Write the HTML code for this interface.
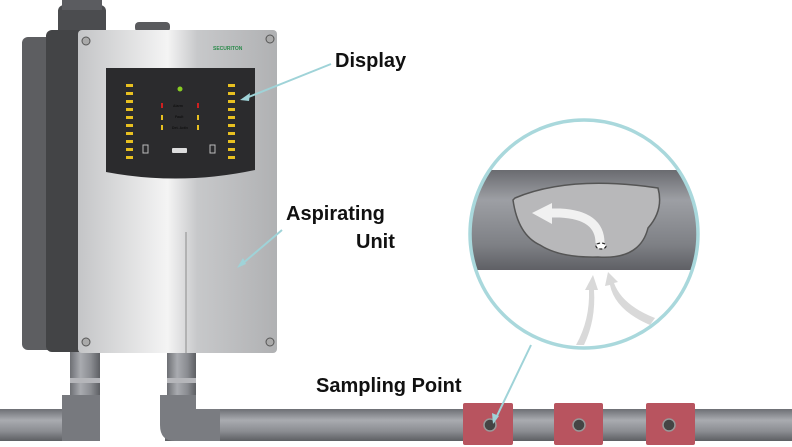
<!DOCTYPE html>
<html><head><meta charset="utf-8"><style>
html,body{margin:0;padding:0;background:#fff;}
svg{display:block;}
text{font-family:"Liberation Sans",sans-serif;font-weight:bold;fill:#111;}
</style></head><body>
<svg width="792" height="447" viewBox="0 0 792 447" xmlns="http://www.w3.org/2000/svg">
<defs>
<linearGradient id="pv" x1="0" x2="1" y1="0" y2="0">
<stop offset="0" stop-color="#6d6f74"/><stop offset=".35" stop-color="#a9abb0"/><stop offset=".7" stop-color="#8a8c91"/><stop offset="1" stop-color="#5d5f63"/></linearGradient>
<linearGradient id="ph" x1="0" x2="0" y1="0" y2="1">
<stop offset="0" stop-color="#6d6f74"/><stop offset=".35" stop-color="#a9abb0"/><stop offset=".7" stop-color="#8a8c91"/><stop offset="1" stop-color="#5d5f63"/></linearGradient>
<linearGradient id="front" x1="0" x2="1" y1="0" y2="0">
<stop offset="0" stop-color="#c4c5c7"/><stop offset=".45" stop-color="#f4f4f4"/><stop offset=".6" stop-color="#c7c8ca"/><stop offset="1" stop-color="#b0b1b3"/></linearGradient>
<linearGradient id="bigpipe" x1="0" x2="0" y1="0" y2="1">
<stop offset="0" stop-color="#6a6b70"/><stop offset=".3" stop-color="#9d9fa4"/><stop offset=".75" stop-color="#7e8085"/><stop offset="1" stop-color="#5f6065"/></linearGradient>
<clipPath id="cc"><circle cx="584" cy="234" r="114"/></clipPath>
</defs>
<!-- pipes -->
<rect x="0" y="409" width="100" height="32" fill="url(#ph)"/>
<rect x="70" y="352" width="30" height="75" fill="url(#pv)"/>
<rect x="70" y="378" width="30" height="5" fill="#b5b6ba"/>
<path d="M62 395 H100 V441 H62 Z" fill="#77797e"/>
<rect x="165" y="409" width="627" height="32" fill="url(#ph)"/>
<rect x="167" y="352" width="29" height="75" fill="url(#pv)"/>
<rect x="167" y="378" width="29" height="5" fill="#b5b6ba"/>
<path d="M160 395 H196 V409 H220 V441 H175 Q160 441 160 425 Z" fill="#7a7c81"/>
<!-- collars -->
<g fill="#b8545f">
<rect x="463" y="403" width="50" height="42" rx="2"/>
<rect x="554" y="403" width="49" height="42" rx="2"/>
<rect x="646" y="403" width="49" height="42" rx="2"/>
</g>
<g fill="#444" stroke="#999" stroke-width="1.5">
<circle cx="490" cy="425" r="6"/><circle cx="579" cy="425" r="6"/><circle cx="669" cy="425" r="6"/>
</g>
<!-- device -->
<rect x="58" y="5" width="48" height="32" rx="6" fill="#4b4c4f"/>
<rect x="62" y="0" width="40" height="10" fill="#5b5c60"/>
<rect x="135" y="22" width="35" height="10" rx="4" fill="#5a5b5e"/>
<rect x="22" y="37" width="60" height="313" rx="6" fill="#5d5e61"/>
<rect x="46" y="30" width="40" height="322" rx="6" fill="#434446"/>
<rect x="78" y="30" width="199" height="323" rx="4" fill="url(#front)"/>
<line x1="186" y1="232" x2="186" y2="353" stroke="#999" stroke-width="1.2"/>
<path d="M106 68 H255 V170 Q180 186 106 172 Z" fill="#2b2b2d"/>
<circle cx="86" cy="41" r="4" fill="#aaa" stroke="#555"/><circle cx="270" cy="39" r="4" fill="#aaa" stroke="#555"/>
<circle cx="86" cy="342" r="4" fill="#aaa" stroke="#555"/><circle cx="270" cy="342" r="4" fill="#aaa" stroke="#555"/>
<text x="213" y="50" font-size="5" style="fill:#2a8a4a">SECURITON</text>
<g fill="#e8c020">
<rect x="126" y="84" width="7" height="3"/><rect x="126" y="92" width="7" height="3"/><rect x="126" y="100" width="7" height="3"/><rect x="126" y="108" width="7" height="3"/><rect x="126" y="116" width="7" height="3"/><rect x="126" y="124" width="7" height="3"/><rect x="126" y="132" width="7" height="3"/><rect x="126" y="140" width="7" height="3"/><rect x="126" y="148" width="7" height="3"/><rect x="126" y="156" width="7" height="3"/>
<rect x="228" y="84" width="7" height="3"/><rect x="228" y="92" width="7" height="3"/><rect x="228" y="100" width="7" height="3"/><rect x="228" y="108" width="7" height="3"/><rect x="228" y="116" width="7" height="3"/><rect x="228" y="124" width="7" height="3"/><rect x="228" y="132" width="7" height="3"/><rect x="228" y="140" width="7" height="3"/><rect x="228" y="148" width="7" height="3"/><rect x="228" y="156" width="7" height="3"/>
<rect x="161" y="115" width="2" height="5"/><rect x="197" y="115" width="2" height="5"/><rect x="161" y="125" width="2" height="5"/><rect x="197" y="125" width="2" height="5"/>
</g>
<rect x="161" y="103" width="2" height="5" fill="#d02020"/><rect x="197" y="103" width="2" height="5" fill="#d02020"/>
<circle cx="180" cy="89" r="2.5" fill="#8c2"/>
<rect x="172" y="148" width="15" height="5" rx="1" fill="#ddd"/>
<rect x="143" y="145" width="5" height="8" fill="none" stroke="#bbb"/><rect x="210" y="145" width="5" height="8" fill="none" stroke="#bbb"/>
<g font-size="3.5" style="fill:#bbb;font-weight:normal"><text x="173" y="107">Alarm</text><text x="175" y="118">Fault</text><text x="172" y="129">Det. Activ</text></g>
<!-- circle detail -->
<circle cx="584" cy="234" r="114" fill="#fff"/>
<g clip-path="url(#cc)">
<rect x="460" y="170" width="250" height="100" fill="url(#bigpipe)"/>
<path d="M515 198 Q570 175 658 188 Q664 210 648 228 Q640 260 598 257 Q560 258 540 245 Q518 235 513 200 Z" fill="#b8b8ba" stroke="#555" stroke-width="1.5"/>
<path d="M600 243 Q600 215 560 213 L548 213" fill="none" stroke="#f1f1f1" stroke-width="9"/>
<path d="M552 203 L532 213 L552 224 Z" fill="#f1f1f1"/>
<ellipse cx="601" cy="246" rx="5" ry="3" fill="#fff" stroke="#222" stroke-width="1.2" stroke-dasharray="3,2"/>
<path d="M576 345 Q590 320 589 290 L585 290 L593 275 L598 290 L594 290 Q596 320 584 345 Z" fill="#d9d9d9"/>
<path d="M650 325 Q615 310 610 285 L605 286 L608 272 L618 282 L614 283 Q622 305 655 318 Z" fill="#d9d9d9"/>
</g>
<circle cx="584" cy="234" r="114" fill="none" stroke="#a9d8dc" stroke-width="3.5"/>
<!-- leaders -->
<g stroke="#9fd3d8" stroke-width="2">
<line x1="331" y1="64" x2="246" y2="98"/>
<line x1="282" y1="230" x2="242" y2="264"/>
<line x1="531" y1="345" x2="495" y2="420"/>
</g>
<path d="M240 100 L250 93 L249 101 Z" fill="#9fd3d8"/>
<path d="M237 268 L243 258 L246 264 Z" fill="#9fd3d8"/>
<path d="M493 424 L492 413 L499 416 Z" fill="#9fd3d8"/>
<!-- labels -->
<text x="335" y="67" font-size="20">Display</text>
<text x="286" y="220" font-size="20">Aspirating</text>
<text x="356" y="248" font-size="20">Unit</text>
<text x="316" y="392" font-size="20">Sampling Point</text>
</svg>
</body></html>
